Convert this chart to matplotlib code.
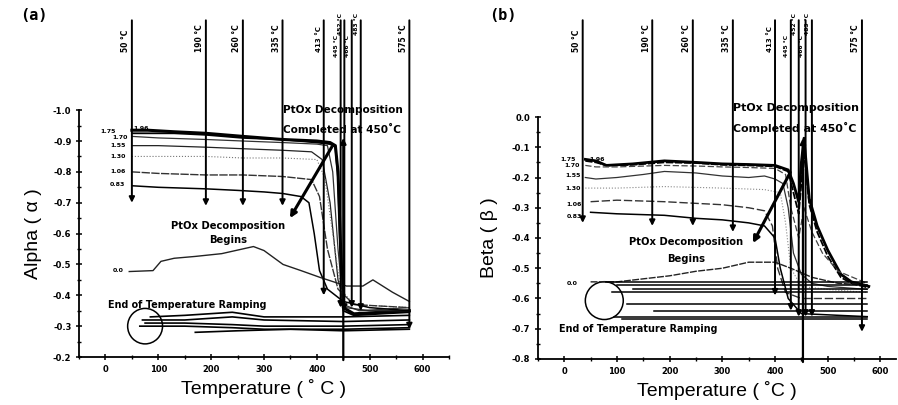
import matplotlib
matplotlib.use("Agg")
import matplotlib.pyplot as plt
from matplotlib.patches import Ellipse
from matplotlib.ticker import MultipleLocator

plt.rcParams["axes.unicode_minus"] = False

# ---------------- data: panel (a) alpha ----------------
a_mark_labels = ["50 °C", "190 °C", "260 °C", "335 °C", "413 °C", "445 °C", "452 °C", "466 °C", "483 °C", "575 °C"]
a_mark_t = [50, 190, 260, 335, 413, 445, 452, 466, 483, 575]
a_mark_tip = [-0.70, -0.69, -0.69, -0.69, -0.40, -0.36, -0.35, -0.36, -0.35, -0.29]

a_t_196 = [50, 80, 130, 190, 260, 335, 400, 425, 435, 440, 445, 450, 470, 520, 575]
a_196 = [-0.935, -0.935, -0.93, -0.925, -0.915, -0.905, -0.90, -0.895, -0.885, -0.80, -0.55, -0.36, -0.34, -0.345, -0.35]
a_175 = [-0.925, -0.925, -0.925, -0.92, -0.91, -0.905, -0.895, -0.89, -0.88, -0.78, -0.50, -0.35, -0.335, -0.34, -0.345]
a_t_170 = [50, 100, 190, 260, 335, 400, 420, 430, 440, 450, 480, 575]
a_170 = [-0.915, -0.91, -0.905, -0.90, -0.895, -0.89, -0.885, -0.80, -0.55, -0.37, -0.35, -0.36]
a_t_155 = [50, 100, 190, 260, 335, 390, 410, 425, 440, 455, 500, 575]
a_155 = [-0.885, -0.885, -0.88, -0.875, -0.87, -0.865, -0.84, -0.70, -0.45, -0.36, -0.35, -0.35]
a_t_130 = [50, 100, 190, 260, 335, 400, 415, 430, 445, 470, 575]
a_130 = [-0.85, -0.85, -0.85, -0.845, -0.845, -0.84, -0.78, -0.60, -0.42, -0.37, -0.36]
a_t_106 = [50, 100, 190, 260, 335, 390, 405, 420, 440, 470, 575]
a_106 = [-0.80, -0.795, -0.79, -0.79, -0.785, -0.775, -0.72, -0.55, -0.42, -0.37, -0.36]
a_t_083 = [50, 100, 190, 250, 300, 335, 370, 385, 395, 405, 420, 450, 500, 575]
a_083 = [-0.755, -0.75, -0.745, -0.74, -0.735, -0.73, -0.72, -0.70, -0.60, -0.48, -0.42, -0.38, -0.36, -0.35]
a_t_000 = [45, 90, 105, 130, 170, 220, 280, 300, 336, 370, 406, 456, 487, 506, 543, 575]
a_000 = [-0.477, -0.48, -0.51, -0.52, -0.526, -0.535, -0.558, -0.545, -0.50, -0.48, -0.458, -0.43, -0.43, -0.45, -0.41, -0.38]

a_cool_t1 = [575, 450, 300, 240, 150, 85]
a_cool_1 = [-0.335, -0.33, -0.33, -0.345, -0.335, -0.33]
a_cool_t2 = [575, 450, 300, 240, 150, 70]
a_cool_2 = [-0.32, -0.315, -0.32, -0.33, -0.32, -0.32]
a_cool_t3 = [575, 450, 300, 240, 150, 75]
a_cool_3 = [-0.305, -0.30, -0.30, -0.305, -0.31, -0.31]
a_cool_t4 = [575, 450, 300, 240, 150, 65]
a_cool_4 = [-0.295, -0.29, -0.29, -0.295, -0.30, -0.30]
a_cool_t5 = [575, 450, 350, 250, 170]
a_cool_5 = [-0.29, -0.285, -0.29, -0.285, -0.28]

# ---------------- data: panel (b) beta ----------------
b_mark_labels = ["50 °C", "190 °C", "260 °C", "335 °C", "413 °C", "445 °C", "452 °C", "466 °C", "483 °C", "575 °C"]
b_mark_t = [35, 167, 244, 320, 400, 430, 445, 458, 470, 565]
b_mark_tip = [-0.35, -0.36, -0.36, -0.38, -0.59, -0.64, -0.66, -0.66, -0.66, -0.71]

b_t_196 = [40, 60, 80, 130, 190, 250, 300, 350, 400, 425, 435, 445, 450, 455, 460, 465, 480, 500, 525, 545, 568, 578]
b_196 = [-0.14, -0.145, -0.16, -0.155, -0.145, -0.15, -0.155, -0.157, -0.16, -0.175, -0.22, -0.28, -0.15, -0.07, -0.17, -0.27, -0.36, -0.44, -0.52, -0.545, -0.555, -0.56]
b_175 = [-0.145, -0.15, -0.16, -0.158, -0.15, -0.152, -0.158, -0.16, -0.163, -0.18, -0.25, -0.32, -0.22, -0.12, -0.2, -0.29, -0.38, -0.46, -0.53, -0.55, -0.56, -0.565]
b_t_170 = [40, 60, 100, 190, 250, 300, 350, 400, 420, 430, 445, 455, 470, 490, 520, 575]
b_170 = [-0.16, -0.165, -0.165, -0.16, -0.162, -0.165, -0.167, -0.17, -0.19, -0.30, -0.40, -0.30, -0.38, -0.45, -0.51, -0.55]
b_t_155 = [40, 60, 100, 150, 190, 250, 300, 350, 380, 400, 415, 425, 435, 450, 470, 500, 575]
b_155 = [-0.20, -0.205, -0.20, -0.19, -0.18, -0.185, -0.195, -0.20, -0.195, -0.205, -0.22, -0.30, -0.45, -0.52, -0.55, -0.56, -0.57]
b_t_130 = [40, 100, 190, 300, 380, 410, 420, 430, 450, 500, 575]
b_130 = [-0.235, -0.235, -0.23, -0.235, -0.24, -0.25, -0.35, -0.50, -0.56, -0.57, -0.58]
b_t_106 = [50, 100, 190, 300, 350, 380, 395, 405, 420, 450, 575]
b_106 = [-0.28, -0.275, -0.28, -0.29, -0.30, -0.31, -0.36, -0.50, -0.58, -0.60, -0.60]
b_t_083 = [50, 100, 190, 250, 300, 350, 380, 400, 410, 425, 450, 575]
b_083 = [-0.315, -0.32, -0.325, -0.335, -0.34, -0.35, -0.36, -0.40, -0.50, -0.60, -0.65, -0.66]
b_t_000 = [50, 100, 150, 200, 250, 300, 350, 400, 430, 470, 520, 575]
b_000 = [-0.545, -0.545, -0.535, -0.525, -0.51, -0.50, -0.48, -0.48, -0.50, -0.53, -0.55, -0.555]

b_cool_end = [80, 100, 130, 90, 120, 171, 95, 110]
b_cool_level = [-0.545, -0.555, -0.567, -0.58, -0.617, -0.64, -0.66, -0.667]

curve_labels = ["1.96", "1.75", "1.70", "1.55", "1.30", "1.06", "0.83", "0.0"]

# ---------------- figure ----------------
fig = plt.figure(figsize=(8.98, 4.05), dpi=100)
axa = fig.add_axes([0.088, 0.1185, 0.412, 0.6095])
axb = fig.add_axes([0.599, 0.1136, 0.399, 0.5975])

lab_font = dict(family="Liberation Sans", fontsize=14)


def style_axes(ax, ylo, yhi, xhi):
    ax.set_xlim(-50, xhi)
    ax.set_ylim(ylo, yhi)
    for s in ("top", "right"):
        ax.spines[s].set_visible(False)
    for s in ("left", "bottom"):
        ax.spines[s].set_linewidth(1.3)
    ax.xaxis.set_major_locator(MultipleLocator(100))
    ax.xaxis.set_minor_locator(MultipleLocator(50))
    ax.yaxis.set_major_locator(MultipleLocator(0.1))
    ax.yaxis.set_minor_locator(MultipleLocator(0.05))
    ax.tick_params(which="major", direction="inout", length=5, width=1.1, pad=3)
    ax.tick_params(which="minor", direction="inout", length=3, width=1.0)
    for lab in ax.get_xticklabels() + ax.get_yticklabels():
        lab.set_fontsize(6)
        lab.set_fontweight("bold")
    ax.patch.set_alpha(0)


# vertical stagger of the crowded labels (axes-fraction offsets)
lab_shift = [0, 0, 0, 0, 0, -0.02, 0.07, -0.02, 0.07, 0]
lab_size = [5.5, 5.5, 5.5, 5.5, 5.0, 4.3, 4.3, 4.3, 4.3, 5.5]


def marks(ax, ts, tips, labels, ytop, ylabtxt):
    for i, (t, tip, lab) in enumerate(zip(ts, tips, labels)):
        ax.annotate("", xy=(t, tip), xycoords="data", xytext=(t, ytop),
                    textcoords=("data", "axes fraction"),
                    arrowprops=dict(arrowstyle="-|>", lw=1.4, color="black",
                                    mutation_scale=8, shrinkA=0, shrinkB=0),
                    annotation_clip=False)
        ax.text(t - 3, ylabtxt + lab_shift[i], lab, rotation=90, ha="right", va="bottom",
                fontsize=lab_size[i], fontweight="bold", transform=ax.get_xaxis_transform(),
                clip_on=False)


# ---- panel a ----
ax = axa
style_axes(ax, -0.2, -1.0, 650)
ax.plot(a_t_196, a_196, color="black", lw=2.2)
ax.plot(a_t_196, a_175, color="black", lw=1.3)
ax.plot(a_t_170, a_170, color="#333333", lw=0.9)
ax.plot(a_t_155, a_155, color="#222222", lw=0.9)
ax.plot(a_t_130, a_130, color="#777777", lw=0.8, ls=":")
ax.plot(a_t_106, a_106, color="#333333", lw=1.0, ls=(0, (6, 1)))
ax.plot(a_t_083, a_083, color="black", lw=1.1)
ax.plot(a_t_000, a_000, color="#222222", lw=1.0)
for ct, cv in [(a_cool_t1, a_cool_1), (a_cool_t2, a_cool_2), (a_cool_t3, a_cool_3),
               (a_cool_t4, a_cool_4), (a_cool_t5, a_cool_5)]:
    ax.plot(ct, cv, color="black", lw=1.2)
marks(ax, a_mark_t, a_mark_tip, a_mark_labels, 1.364, 1.235)
# 450 C completion arrow
ax.annotate("", xy=(450, -0.91), xytext=(450, -0.19),
            arrowprops=dict(arrowstyle="-|>", lw=1.6, color="black", mutation_scale=8,
                            shrinkA=0, shrinkB=0), annotation_clip=False)
ax.annotate("", xy=(349, -0.65), xytext=(428, -0.88),
            arrowprops=dict(arrowstyle="-|>", lw=2.2, color="black", mutation_scale=9,
                            shrinkA=0, shrinkB=0))
ax.text(336, -1.0, "PtOx Decomposition", fontsize=7.6, fontweight="bold", va="center")
ax.text(336, -0.94, "Completed at 450˚C", fontsize=7.6, fontweight="bold", va="center")
ax.text(232, -0.625, "PtOx Decomposition", fontsize=7.2, fontweight="bold", ha="center", va="center")
ax.text(232, -0.58, "Begins", fontsize=7.2, fontweight="bold", ha="center", va="center")
ax.text(5, -0.37, "End of Temperature Ramping", fontsize=6.9, fontweight="bold", va="center")
ax.add_patch(Ellipse((75, -0.30), 66, 0.115, fill=False, lw=1.1, color="black"))
a_lab_xy = [(52, -0.94), (20, -0.93), (42, -0.91), (38, -0.885), (38, -0.85), (38, -0.80), (38, -0.76), (35, -0.48)]
for (x, y), lab in zip(a_lab_xy, curve_labels):
    ax.text(x, y, lab, fontsize=4.5, fontweight="bold", ha="right" if lab != "1.96" else "left",
            va="center")
ax.set_xlabel("Temperature ( ˚ C )", labelpad=4, **lab_font)
ax.set_ylabel("Alpha ( α )", labelpad=8, **lab_font)
fig.text(0.022, 0.962, "(a)", fontsize=11, fontweight="bold", family="DejaVu Sans Mono",
         va="center")

# ---- panel b ----
ax = axb
style_axes(ax, -0.8, 0.0, 630)
ax.plot(b_t_196, b_196, color="black", lw=2.0)
ax.plot(b_t_196, b_175, color="black", lw=1.3, ls=(0, (4, 1)))
ax.plot(b_t_170, b_170, color="#444444", lw=0.9, ls=(0, (5, 2)))
ax.plot(b_t_155, b_155, color="#333333", lw=0.9)
ax.plot(b_t_130, b_130, color="#888888", lw=0.8, ls=":")
ax.plot(b_t_106, b_106, color="#333333", lw=1.0, ls=(0, (6, 2)))
ax.plot(b_t_083, b_083, color="black", lw=1.1)
ax.plot(b_t_000, b_000, color="#222222", lw=1.0, ls=(0, (5, 1)))
for xe, lv in zip(b_cool_end, b_cool_level):
    ax.plot([575, xe], [lv, lv], color="black", lw=1.1)
marks(ax, b_mark_t, b_mark_tip, b_mark_labels, 1.40, 1.27)
ax.annotate("", xy=(453, -0.07), xytext=(453, -0.81),
            arrowprops=dict(arrowstyle="-|>", lw=1.6, color="black", mutation_scale=8,
                            shrinkA=0, shrinkB=0), annotation_clip=False)
ax.annotate("", xy=(358, -0.417), xytext=(429, -0.183),
            arrowprops=dict(arrowstyle="-|>", lw=2.2, color="black", mutation_scale=9,
                            shrinkA=0, shrinkB=0))
ax.text(320, 0.03, "PtOx Decomposition", fontsize=7.9, fontweight="bold", va="center",
        clip_on=False)
ax.text(320, -0.037, "Completed at 450˚C", fontsize=7.9, fontweight="bold", va="center")
ax.text(232, -0.413, "PtOx Decomposition", fontsize=7.2, fontweight="bold", ha="center", va="center")
ax.text(232, -0.47, "Begins", fontsize=7.2, fontweight="bold", ha="center", va="center")
ax.text(-10, -0.70, "End of Temperature Ramping", fontsize=6.9, fontweight="bold", va="center")
ax.add_patch(Ellipse((76, -0.607), 72, 0.125, fill=False, lw=1.1, color="black"))
b_lab_xy = [(48, -0.14), (22, -0.14), (30, -0.16), (32, -0.195), (32, -0.235), (33, -0.29), (33, -0.33), (25, -0.55)]
for (x, y), lab in zip(b_lab_xy, curve_labels):
    ax.text(x, y, lab, fontsize=4.5, fontweight="bold", ha="right" if lab != "1.96" else "left",
            va="center")
ax.set_xlabel("Temperature ( ˚C )", labelpad=4, **lab_font)
ax.set_ylabel("Beta ( β )", labelpad=10, **lab_font)
fig.text(0.545, 0.962, "(b)", fontsize=11, fontweight="bold", family="DejaVu Sans Mono",
         va="center")

fig.savefig("out.png", dpi=100)
